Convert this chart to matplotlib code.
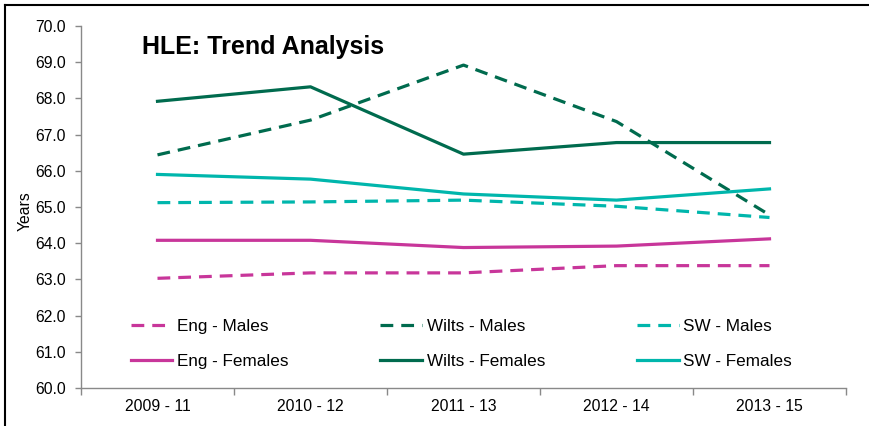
import matplotlib
matplotlib.use('Agg')
import matplotlib.pyplot as plt
from matplotlib.lines import Line2D
from matplotlib.ticker import FixedLocator, FormatStrFormatter

plt.rcParams['font.family'] = ['Liberation Sans', 'DejaVu Sans']

# data
periods = ['2009 - 11', '2010 - 12', '2011 - 13', '2012 - 14', '2013 - 15']
eng_males = [63.03, 63.18, 63.18, 63.38, 63.38]
wilts_males = [66.44, 67.40, 68.92, 67.36, 64.78]
sw_males = [65.12, 65.14, 65.19, 65.02, 64.71]
eng_females = [64.08, 64.08, 63.88, 63.92, 64.12]
wilts_females = [67.92, 68.32, 66.46, 66.78, 66.78]
sw_females = [65.90, 65.77, 65.36, 65.19, 65.50]

c_eng = '#C8369A'
c_wilts = '#006B4E'
c_sw = '#00B6AC'

fig = plt.figure(figsize=(8.7, 4.26), dpi=100)
ax = fig.add_axes([81 / 870, 1 - 388 / 426, 765 / 870, 362 / 426])

x = list(range(len(periods)))
lw = 2.3
dash = (4, 2.5)

l_em, = ax.plot(x, eng_males, color=c_eng, lw=lw, dashes=dash, label='Eng - Males')
l_wm, = ax.plot(x, wilts_males, color=c_wilts, lw=lw, dashes=dash, label='Wilts - Males')
l_sm, = ax.plot(x, sw_males, color=c_sw, lw=lw, dashes=dash, label='SW - Males')
l_ef, = ax.plot(x, eng_females, color=c_eng, lw=lw, label='Eng - Females')
l_wf, = ax.plot(x, wilts_females, color=c_wilts, lw=lw, label='Wilts - Females')
l_sf, = ax.plot(x, sw_females, color=c_sw, lw=lw, label='SW - Females')

ax.set_xlim(-0.5, len(periods) - 0.5)
ax.set_ylim(60, 70)
ax.set_yticks([60 + i for i in range(11)])
ax.yaxis.set_major_formatter(FormatStrFormatter('%.1f'))

ax.set_xticks(x)
ax.set_xticklabels(periods)
ax.xaxis.set_minor_locator(FixedLocator([i - 0.5 for i in range(len(periods) + 1)]))
ax.tick_params(axis='x', which='major', length=0, pad=8, labelsize=11.3, colors='black')
ax.tick_params(axis='x', which='minor', length=5, width=1, color='#898989')
ax.tick_params(axis='y', length=4.5, width=1, color='#898989', pad=6.5, labelsize=11.3)

for s in ['top', 'right']:
    ax.spines[s].set_visible(False)
for s in ['left', 'bottom']:
    ax.spines[s].set_color('#898989')
    ax.spines[s].set_linewidth(1)

ax.set_ylabel('Years', fontsize=11.3)
ax.yaxis.set_label_coords(-0.0627, 0.489)

fig.text(142 / 870, 1 - 47 / 426, 'HLE: Trend Analysis', fontsize=18,
         fontweight='bold', ha='left', va='center')

# legend is filled column-wise, so order it to read row-wise like the original
handles = [l_em, l_ef, l_wm, l_wf, l_sm, l_sf]
fig.legend(handles=handles, labels=[h.get_label() for h in handles],
           ncol=3, frameon=False, loc='center left',
           bbox_to_anchor=(122 / 870, 1 - 344 / 426), borderpad=0,
           handlelength=2.45, handletextpad=0.25, columnspacing=5.4,
           labelspacing=1.2, fontsize=12.3)

# frame lines on top and left of the picture
fig.add_artist(Line2D([5 / 870, 1], [1 - 5 / 426, 1 - 5 / 426], color='black', lw=1.5,
                      transform=fig.transFigure))
fig.add_artist(Line2D([5 / 870, 5 / 870], [0, 1 - 5 / 426], color='black', lw=1.5,
                      transform=fig.transFigure))

fig.savefig('out.png', dpi=100)
